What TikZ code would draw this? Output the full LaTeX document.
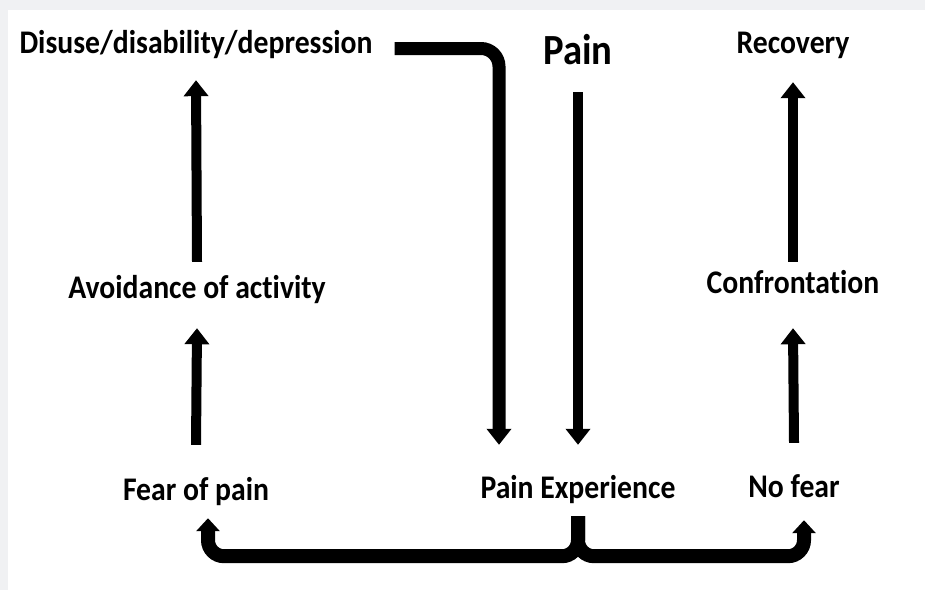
\documentclass[tikz,border=0pt]{standalone}
\usepackage{fontspec}
\setmainfont{Carlito}[FakeStretch=0.9, Ligatures=NoCommon]
\usetikzlibrary{arrows.meta}
\definecolor{frame}{RGB}{240,241,243}

\tikzstyle{lbl}=[inner sep=0pt, anchor=base, text height=22pt, text depth=6pt, font=\bfseries\fontsize{33}{37}\selectfont]
\tikzstyle{big}=[lbl, text height=29pt, text depth=8pt, font=\bfseries\fontsize{43}{47}\selectfont]
\tikzstyle{flow}=[line width=10pt, -{Triangle[width=24pt, length=16pt]}]
\tikzstyle{fork}=[line width=14pt, rounded corners=16pt, -{Triangle[width=23pt, length=13pt]}]

\begin{document}
\begin{tikzpicture}[x=1pt, y=-1pt]
    \useasboundingbox (0,0) rectangle (925,590);
    \fill[frame] (0,0) rectangle (925,590);
    \fill[white] (8,10) rectangle (925,590);
    \node[lbl] (disuse) at (196, 53) {Disuse/disability/depression};
    \node[big] (pain) at (578, 64) {Pain};
    \node[lbl] (recovery) at (793, 53) {Recovery};
    \node[lbl] (avoid) at (197, 298) {Avoidance of activity};
    \node[lbl] (confront) at (793, 293) {Confrontation};
    \node[lbl] (fear) at (196, 500) {Fear of pain};
    \node[lbl] (exp) at (578, 498) {Pain Experience};
    \node[lbl] (nofear) at (794, 497) {No fear};
    \draw[flow] ([yshift=33pt]fear.north) -- ([yshift=-24pt]avoid.south);
    \draw[flow] ([yshift=14pt]avoid.north) -- ([yshift=-21pt]disuse.south);
    \draw[flow] ([yshift=32pt]nofear.north) -- ([yshift=-29pt]confront.south);
    \draw[flow] ([yshift=9pt]confront.north) -- ([yshift=-23pt]recovery.south);
    \draw[flow] ([yshift=-20pt]pain.south) -- ([yshift=31pt]exp.north);
    \draw[flow, line width=13pt, rounded corners=18pt] ([xshift=22pt, yshift=-3.5pt]disuse.east) -| ([xshift=-79pt, yshift=31pt]exp.north);
    \draw[fork] ([yshift=-12pt]exp.south) -- ++(0,40) -| ([xshift=12pt, yshift=-12pt]fear.south);
    \draw[fork] ([yshift=-12pt]exp.south) -- ++(0,40) -| ([xshift=10pt, yshift=-17pt]nofear.south);
\end{tikzpicture}
\end{document}
